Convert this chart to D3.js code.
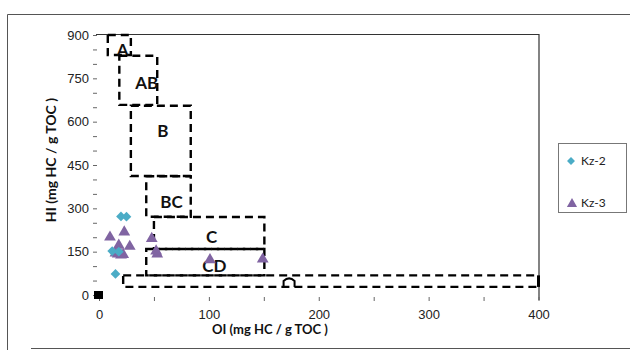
<!DOCTYPE html>
<html>
<head>
<meta charset="utf-8">
<script src="https://cdn.jsdelivr.net/npm/d3@7"></script>
<style>
  body { margin: 0; background: #fff; }
  svg { display: block; font-family: Lato, "Open Sans", sans-serif; }
  .tick text { font-size: 13px; fill: #222; }
  .axis-title { font-size: 13px; font-weight: bold; fill: #111; }
  .zone-label { font-size: 17px; font-weight: bold; fill: #111; }
</style>
</head>
<body>
<div id="chart"></div>
<script>
const margin = ({top: 35, right: 92, bottom: 55, left: 99});
const totwidth = 630, totheight = 350;

// samples (OI, HI)
const kz2_oi = [20, 25, 12, 18, 15];
const kz2_hi = [272, 271, 152, 150, 73];

const kz3_oi = [10, 23, 18, 28, 15, 20, 17, 22, 48, 52, 53, 101, 149];
const kz3_hi = [200, 218, 172, 168, 145, 138, 142, 140, 195, 152, 142, 122, 124];

// kerogen zones: name, OI range, HI range, label anchor
const zoneNames = ["A", "AB", "B", "BC", "C", "CD", "D"];
const zoneOI = [[8, 29], [18.5, 53], [29, 83.5], [43, 83.5], [50, 150.5], [43, 150.5], [22, 400]];
const zoneHI = [[831, 900], [658, 828], [412, 655], [271, 411], [159, 270], [68, 159], [28, 68]];
const zoneLabelOI = [21.5, 43.5, 58, 66, 102.5, 105, null];
const zoneLabelHI = [848, 734, 568, 322, 201, 100, null];

const xTicks = [0, 100, 200, 300, 400];
const yTicks = [0, 150, 300, 450, 600, 750, 900];

const svg = d3.select("#chart").append("svg")
  .attr("width", totwidth)
  .attr("height", totheight);

// outer chart frame
svg.append("path")
  .attr("d", "M7.5,350V14.5H630 M31,348.5H630")
  .attr("fill", "none")
  .attr("stroke", "#555")
  .attr("stroke-width", 1);

var x = d3.scaleLinear()
  .domain([0, 400])
  .range([margin.left, totwidth - margin.right + 0.5]);

var y = d3.scaleLinear()
  .domain([0, 900])
  .range([totheight - margin.bottom, margin.top]);

// plot border (top and right only)
svg.append("path")
  .attr("d", "M" + (x(0) - 3) + "," + (y(900) - 0.5) + "H" + (x(400) + 0.5) + "V" + (y(0) + 5))
  .attr("fill", "none")
  .attr("stroke", "#333")
  .attr("stroke-width", 1.2);

// axes
var yAxis = svg.append("g")
  .attr("transform", "translate(" + (x(0) - 2) + ",0)")
  .call(d3.axisLeft(y).tickValues(d3.range(0, 901, 50)).tickSize(4)
    .tickFormat(d => yTicks.includes(d) ? d : ""));
yAxis.select(".domain").remove();
yAxis.selectAll(".tick line").attr("stroke", "#666");
yAxis.selectAll(".tick text").attr("x", -8);

var xAxis = svg.append("g")
  .attr("transform", "translate(0," + (y(0) + 2) + ")")
  .call(d3.axisBottom(x).tickValues(d3.range(0, 401, 50)).tickSize(4)
    .tickFormat(d => xTicks.includes(d) ? d : ""));
xAxis.select(".domain").remove();
xAxis.selectAll(".tick line").attr("stroke", "#666");
xAxis.selectAll(".tick text").attr("y", 13);

svg.append("text")
  .attr("class", "axis-title")
  .attr("x", 270)
  .attr("y", 334)
  .attr("text-anchor", "middle")
  .text("OI (mg HC / g TOC )");

svg.append("text")
  .attr("class", "axis-title")
  .style("font-size", "14px")
  .attr("transform", "translate(56,160)rotate(-90)")
  .attr("text-anchor", "middle")
  .text("HI (mg HC / g TOC )");

// zones
var zones = svg.append("g").attr("class", "zones");
zoneNames.forEach((name, i) => {
  var x0 = x(zoneOI[i][0]), x1 = x(zoneOI[i][1]);
  var y0 = y(zoneHI[i][1]), y1 = y(zoneHI[i][0]);
  zones.append("rect")
    .attr("x", x0).attr("y", y0)
    .attr("width", x1 - x0).attr("height", y1 - y0)
    .attr("fill", "none")
    .attr("stroke", "#000")
    .attr("stroke-width", 2.4)
    .attr("stroke-dasharray", "8,5");
  if (zoneLabelOI[i] != null) {
    zones.append("text")
      .attr("class", "zone-label")
      .attr("x", x(zoneLabelOI[i]))
      .attr("y", y(zoneLabelHI[i]))
      .attr("dy", "0.36em")
      .attr("text-anchor", "middle")
      .text(name);
  }
});

// small bump on the lower edge of zone D
zones.append("path")
  .attr("d", "M" + x(168) + "," + y(28) + "V" + (y(28) - 6) + "Q" + x(173) + "," + (y(28) - 11) + " " + x(178) + "," + (y(28) - 6) + "V" + y(28))
  .attr("fill", "none")
  .attr("stroke", "#000")
  .attr("stroke-width", 2);

// right edge solid tick of zone D
zones.append("line")
  .attr("x1", x(400)).attr("x2", x(400))
  .attr("y1", y(68)).attr("y2", y(28))
  .attr("stroke", "#000").attr("stroke-width", 3);

// origin marker
svg.append("rect")
  .attr("x", x(0) - 5).attr("y", y(0) - 4)
  .attr("width", 9).attr("height", 8)
  .attr("fill", "#000");

// series
const diamond = d3.symbol().type(d3.symbolDiamond2).size(60);
const triangle = d3.symbol().type(d3.symbolTriangle).size(60);

svg.append("g").selectAll("path")
  .data(d3.zip(kz3_oi, kz3_hi))
  .enter().append("path")
  .attr("d", triangle)
  .attr("transform", d => "translate(" + x(d[0]) + "," + y(d[1]) + ")")
  .attr("fill", "#8064A2");

svg.append("g").selectAll("path")
  .data(d3.zip(kz2_oi, kz2_hi))
  .enter().append("path")
  .attr("d", diamond)
  .attr("transform", d => "translate(" + x(d[0]) + "," + y(d[1]) + ")")
  .attr("fill", "#4BACC6");

// legend
var legend = svg.append("g").attr("transform", "translate(558,143)");
legend.append("rect")
  .attr("x", 0.5).attr("y", 0.5)
  .attr("width", 68).attr("height", 69)
  .attr("fill", "#fff")
  .attr("stroke", "#777");

legend.append("path").attr("d", d3.symbol().type(d3.symbolDiamond2).size(40))
  .attr("transform", "translate(13,18)").attr("fill", "#4BACC6");
legend.append("text").attr("x", 23).attr("y", 18).attr("dy", "0.35em")
  .style("font-size", "12px").attr("fill", "#222").text("Kz-2");

legend.append("path").attr("d", d3.symbol().type(d3.symbolTriangle).size(45))
  .attr("transform", "translate(14,61)").attr("fill", "#8064A2");
legend.append("text").attr("x", 23).attr("y", 60).attr("dy", "0.35em")
  .style("font-size", "12px").attr("fill", "#222").text("Kz-3");
</script>
</body>
</html>
